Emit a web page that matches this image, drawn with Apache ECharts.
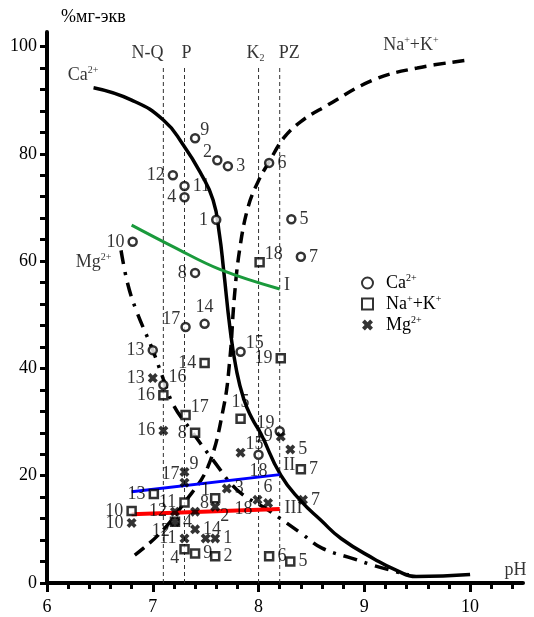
<!DOCTYPE html>
<html>
<head>
<meta charset="utf-8">
<script src="https://cdn.jsdelivr.net/npm/echarts@6/dist/echarts.min.js"></script>
<style>
  html, body { margin: 0; padding: 0; background: #fff; }
  #chart { width: 534px; height: 617px; }
</style>
</head>
<body>
<div id="chart"></div>
<script>
// axis ticks
const xTicks = [6, 7, 8, 9, 10];
const xMinorTicks = [6.2, 6.4, 6.6, 6.8, 7.2, 7.4, 7.6, 7.8, 8.2, 8.4, 8.6, 8.8, 9.2, 9.4, 9.6, 9.8, 10.2, 10.4];
const yTicks = [0, 20, 40, 60, 80, 100];
const yMinorTicks = [0, 4, 8, 12, 16, 20, 24, 28, 32, 36, 40, 44, 48, 52, 56, 60, 64, 68, 72, 76, 80, 84, 88, 92, 96, 100];

// stratigraphic boundaries (pH)
const stageNames = ['N-Q', 'P', 'K2', 'PZ'];
const stagePH = [7.1, 7.3, 8.0, 8.2];

// sample points [pH, %мг-экв]
const caIds = [1, 2, 3, 4, 5, 6, 7, 8, 9, 10, 11, 12, 13, 14, 15, 16, 17, 18, 19];
const caPoints = [[7.60, 67.7], [7.61, 78.8], [7.71, 77.7], [7.30, 71.9], [8.31, 67.8], [8.10, 78.3], [8.40, 60.8],
  [7.40, 57.8], [7.40, 82.9], [6.81, 63.6], [7.30, 74.0], [7.19, 76.0], [7.00, 43.4], [7.49, 48.3], [7.83, 43.1],
  [7.10, 36.9], [7.31, 47.7], [8.00, 23.9], [8.20, 28.3]];

const naIds = [1, 2, 4, 5, 6, 7, 8, 9, 10, 11, 12, 13, 14, 15, 16, 17, 18, 19];
const naPoints = [[7.59, 15.8], [7.59, 5.0], [7.30, 6.3], [8.30, 4.0], [8.10, 5.0], [8.40, 21.2], [7.40, 28.0],
  [7.40, 5.5], [6.80, 13.4], [7.30, 15.0], [7.21, 11.4], [7.01, 16.6], [7.49, 41.0], [7.83, 30.6], [7.10, 35.0],
  [7.31, 31.3], [8.01, 59.8], [8.21, 41.9]];

const mgIds = [1, 2, 3, 4, 5, 6, 7, 8, 9, 10, 11, 12, 13, 14, 15, 16, 17, 18, 19, ''];
const mgPoints = [[7.59, 8.3], [7.59, 14.2], [7.70, 17.6], [7.21, 11.4], [8.30, 24.9], [8.09, 14.9], [8.42, 15.5],
  [7.40, 13.3], [7.30, 20.7], [6.80, 11.2], [7.30, 8.3], [7.21, 13.3], [7.00, 38.2], [7.40, 10.0], [7.83, 24.3],
  [7.10, 28.4], [7.30, 18.7], [7.99, 15.5], [8.21, 27.3], [7.50, 8.3]];

// trend curves
const caCurve = [[6.44, 92.3], [6.8, 90], [7.1, 86.3], [7.29, 81.6], [7.45, 76.5], [7.57, 71.4], [7.63, 65], [7.67, 58.3],
  [7.73, 47.5], [7.79, 39.8], [7.86, 34.3], [7.94, 30.6], [8.02, 27.9], [8.21, 20.1], [8.4, 15.3], [8.59, 11.7],
  [8.78, 8.3], [9.1, 4.4], [9.3, 2.4], [9.49, 1.2], [10.0, 1.6]];
const naCurve = [[6.83, 5.2], [7.07, 9.3], [7.3, 15], [7.52, 21.6], [7.67, 32.8], [7.73, 42], [7.77, 53], [7.82, 62],
  [7.9, 70], [8.0, 75], [8.1, 78.5], [8.24, 83], [8.4, 86], [8.62, 88.7], [9.09, 93.8], [9.5, 96], [10.0, 97.5]];
const mgCurve = [[6.70, 62], [6.76, 56], [6.84, 51], [7.0, 43.4], [7.1, 38], [7.2, 33], [7.36, 28.5], [7.57, 22.9],
  [7.8, 17.3], [8.09, 13.6], [8.4, 9.3], [8.6, 6.5], [8.9, 4.5], [9.1, 3.2], [9.42, 1.5]];

const lineI = [[6.8, 66.7], [7.2, 62.6], [7.64, 58.4], [8.2, 54.8]];
const lineII = [[6.8, 17.0], [8.2, 20.2]];
const lineIII = [[6.8, 12.8], [8.2, 13.8]];

// label side for each sample number
const caSides = ['l', 'tl', 'r', 'l', 'r', 'r', 'r', 'l', 'tr', 'l', 'r', 'l', 'l', 't', 'tr', 'tr', 'tl', 'b', 'tl'];
const naSides = ['tl', 'r', 'bl', 'r', 'r', 'r', 'l', 'r', 'l', 'l', 'bl', 'l', 'l', 't', 'l', 'tr', 'tr', 'l'];
const mgSides = ['r', 'br', 'r', 'r', 'r', 't', 'r', 'tr', 'tr', 'l', 'l', 'l', 'l', 'r', 'tr', 'l', 'tl', 'bl', 'l', 'r'];

const FONT = 'Liberation Serif';
const rich = {
  n: { fontFamily: FONT, fontSize: 18, color: '#000', lineHeight: 20 },
  s: { fontFamily: FONT, fontSize: 10, color: '#000', lineHeight: 10, verticalAlign: 'top' },
  d: { fontFamily: FONT, fontSize: 10, color: '#000', lineHeight: 10, verticalAlign: 'bottom' },
  sp: { width: 8 }
};

const sideStyle = {
  l: { position: 'left', distance: 3 },
  r: { position: 'right', distance: 3 },
  t: { position: 'top', distance: 2 },
  b: { position: 'bottom', distance: 2 },
  tl: { position: 'left', distance: 2, offset: [2, -8] },
  tr: { position: 'right', distance: 2, offset: [-2, -8] },
  bl: { position: 'left', distance: 2, offset: [2, 9] },
  br: { position: 'right', distance: 2, offset: [-2, 9] }
};

// bold "x" marker
const starPath = 'path://M0,2.6 L2.6,0 L5,2.4 L7.4,0 L10,2.6 L7.6,5 L10,7.4 L7.4,10 L5,7.6 L2.6,10 L0,7.4 L2.4,5 Z';

function samples(ids, pts, sides) {
  return ids.map((id, i) => ({ value: pts[i], name: String(id), label: sideStyle[sides[i]] }));
}

// free text placed in data coordinates
const notes = [
  { text: '{n|N-Q}', at: [6.95, 98.8] },
  { text: '{n|P}', at: [7.32, 98.8] },
  { text: '{n|K}{d|2}', at: [7.97, 98.8] },
  { text: '{n|PZ}', at: [8.29, 98.8] },
  { text: '{n|Ca}{s|2+}', at: [6.34, 94.6] },
  { text: '{n|Mg}{s|2+}', at: [6.44, 59.8] },
  { text: '{n|Na}{s|+}{n|+K}{s|+}', at: [9.44, 100.3] },
  { text: '{n|I}', at: [8.27, 55.5] },
  { text: '{n|II}', at: [8.29, 22.0] },
  { text: '{n|III}', at: [8.33, 14.0] },
  { text: '{n|pH}', at: [10.43, 2.4] }
];

const legendText = {
  Ca: '{sp| }{n|Ca}{s|2+}',
  NaK: '{sp| }{n|Na}{s|+}{n|+K}{s|+}',
  Mg: '{sp| }{n|Mg}{s|2+}'
};

const chart = echarts.init(document.getElementById('chart'));

const stageSeries = stagePH.map(ph => ({
  type: 'line',
  data: [[ph, 0], [ph, 96]],
  symbol: 'none',
  silent: true,
  lineStyle: { color: '#333', width: 1, type: [4, 3] },
  z: 1
}));

const pointLabel = {
  show: true,
  formatter: '{b}',
  fontFamily: FONT,
  fontSize: 18,
  color: '#000'
};

const option = {
  backgroundColor: '#fff',
  animation: false,
  grid: { left: 47, right: 11, top: 32, bottom: 34, containLabel: false },
  legend: {
    orient: 'vertical',
    left: 356,
    top: 268,
    itemWidth: 11,
    itemHeight: 11,
    itemGap: 2,
    data: ['Ca', 'NaK', 'Mg'],
    formatter: name => legendText[name],
    textStyle: { rich: rich }
  },
  xAxis: [{
    type: 'value',
    min: 6,
    max: 10.5,
    interval: 1,
    splitLine: { show: false },
    axisLine: { onZero: false, lineStyle: { color: '#000', width: 4 } },
    axisTick: { customValues: xTicks, length: 9, lineStyle: { color: '#000', width: 3 } },
    axisLabel: { customValues: xTicks, margin: 15, fontFamily: FONT, fontSize: 18, color: '#000' }
  }, {
    type: 'value',
    min: 6,
    max: 10.5,
    position: 'bottom',
    splitLine: { show: false },
    axisLine: { show: false },
    axisTick: { customValues: xMinorTicks, length: 6, lineStyle: { color: '#000', width: 3 } },
    axisLabel: { show: false }
  }],
  yAxis: {
    type: 'value',
    min: 0,
    max: 102.7,
    interval: 20,
    name: '%мг-экв',
    nameLocation: 'end',
    nameGap: 6,
    nameTextStyle: { fontFamily: FONT, fontSize: 18, color: '#000', align: 'left', padding: [0, 0, 0, 14] },
    splitLine: { show: false },
    axisLine: { onZero: false, lineStyle: { color: '#000', width: 4 } },
    axisTick: { customValues: yMinorTicks, length: 7, lineStyle: { color: '#000', width: 3 } },
    axisLabel: { customValues: yTicks, margin: 10, fontFamily: FONT, fontSize: 18, color: '#000' }
  },
  series: [
    ...stageSeries,
    {
      type: 'line', data: caCurve, smooth: 0.5, symbol: 'none', silent: true, z: 3,
      lineStyle: { color: '#000', width: 3.5 }
    },
    {
      type: 'line', data: naCurve, smooth: 0.4, symbol: 'none', silent: true, z: 3,
      lineStyle: { color: '#000', width: 3.5, type: [12, 7] }
    },
    {
      type: 'line', data: mgCurve, smooth: 0.4, symbol: 'none', silent: true, z: 3,
      lineStyle: { color: '#000', width: 3.5, type: [14, 8, 3, 8] }
    },
    {
      type: 'line', data: lineI, smooth: 0.4, symbol: 'none', silent: true, z: 4,
      lineStyle: { color: '#1a9a3c', width: 3 }
    },
    {
      type: 'line', data: lineII, symbol: 'none', silent: true, z: 4,
      lineStyle: { color: '#0000ff', width: 3 }
    },
    {
      type: 'line', data: lineIII, symbol: 'none', silent: true, z: 4,
      lineStyle: { color: '#ff0000', width: 4 }
    },
    {
      name: 'Ca', type: 'scatter', z: 5, symbol: 'circle', symbolSize: 8,
      itemStyle: { color: '#fff', borderColor: '#000', borderWidth: 2.5 },
      label: pointLabel,
      data: samples(caIds, caPoints, caSides)
    },
    {
      name: 'NaK', type: 'scatter', z: 5, symbol: 'rect', symbolSize: 8,
      itemStyle: { color: '#fff', borderColor: '#000', borderWidth: 2.5 },
      label: pointLabel,
      data: samples(naIds, naPoints, naSides)
    },
    {
      name: 'Mg', type: 'scatter', z: 5, symbol: starPath, symbolSize: 10,
      itemStyle: { color: '#000' },
      label: pointLabel,
      data: samples(mgIds, mgPoints, mgSides)
    },
    {
      type: 'scatter', silent: true, symbolSize: 0, z: 6,
      label: { show: true, position: 'inside', formatter: '{b}', rich: rich },
      data: notes.map(t => ({ value: t.at, name: t.text }))
    }
  ]
};

chart.setOption(option);
window.addEventListener('resize', chart.resize);
</script>
</body>
</html>
